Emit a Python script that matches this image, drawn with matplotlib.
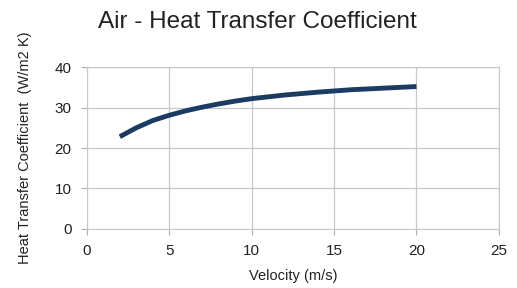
import matplotlib.pyplot as plt

# air heat transfer coefficient vs velocity
velocity = [2, 3, 4, 5, 6, 7, 8, 9, 10, 12, 14, 16, 18, 20]
htc = [22.8, 25.0, 26.8, 28.1, 29.2, 30.1, 30.9, 31.6, 32.2, 33.1, 33.8, 34.4, 34.8, 35.2]

xticks = [0, 5, 10, 15, 20, 25]
yticks = [0, 10, 20, 30, 40]

plt.rcParams['font.family'] = ['Liberation Sans', 'DejaVu Sans']

fig = plt.figure(figsize=(5.17, 2.88), dpi=100)
ax = fig.add_axes([0.168, 0.205, 0.797, 0.562])

ax.plot(velocity, htc, color='#1c3b63', linewidth=3.5, solid_capstyle='butt')

ax.set_xlim(0, 25)
ax.set_ylim(0, 40)
ax.set_xticks(xticks)
ax.set_yticks(yticks)
ax.grid(True, color='#c8c8c8', linewidth=0.9)
ax.set_axisbelow(True)
for s in ax.spines.values():
    s.set_color('#c8c8c8')
ax.tick_params(colors='#b0b0b0', labelcolor='#222222', labelsize=11, length=4, width=0.8, pad=7)

ax.set_xlabel('Velocity (m/s)', fontsize=10.5, color='#222222', labelpad=8)
ax.set_ylabel('Heat Transfer Coefficient  (W/m2 K)', fontsize=10.5, color='#222222', labelpad=16)
fig.text(0.497, 0.925, 'Air - Heat Transfer Coefficient', ha='center', va='center',
         fontsize=17.5, color='#222222')

fig.savefig('out.png', dpi=100)
